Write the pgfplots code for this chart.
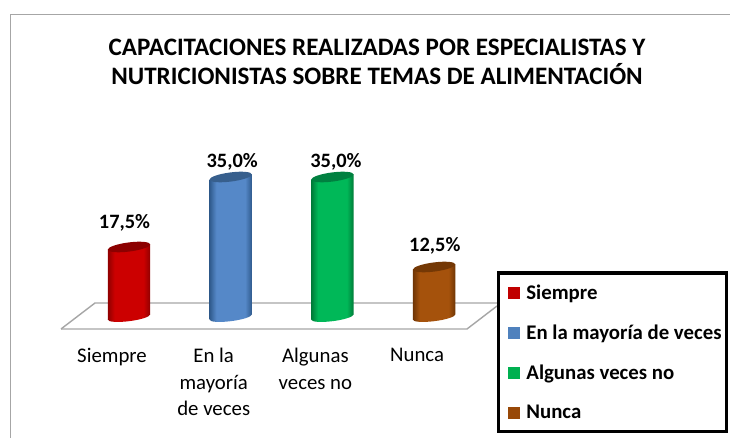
\documentclass[border=0pt]{standalone}
\usepackage{fontspec}
\setmainfont{Carlito}
\usepackage{pgfplots}
\pgfplotsset{compat=1.18}
\definecolor{redC}{HTML}{CC0000}\definecolor{redE}{HTML}{900000}\definecolor{redT}{HTML}{8C0000}
\definecolor{bluC}{HTML}{5588C8}\definecolor{bluE}{HTML}{2F5A8C}\definecolor{bluT}{HTML}{375F8D}
\definecolor{greC}{HTML}{00B858}\definecolor{greE}{HTML}{007A38}\definecolor{greT}{HTML}{008040}
\definecolor{broC}{HTML}{A5520C}\definecolor{broE}{HTML}{6F3505}\definecolor{broT}{HTML}{743805}
\definecolor{lgR}{HTML}{C00000}\definecolor{lgB}{HTML}{4F81BD}\definecolor{lgG}{HTML}{00B050}\definecolor{lgN}{HTML}{984807}
\definecolor{frameG}{HTML}{A6A6A6}
\newcommand\cylshade[3]{\pgfdeclarehorizontalshading{#1}{100bp}{color(0bp)=(#2);color(25bp)=(#2);color(33bp)=(#3);color(67bp)=(#3);color(75bp)=(#2);color(100bp)=(#2)}}
\cylshade{cylR}{redE}{redC}
\cylshade{cylB}{bluE}{bluC}
\cylshade{cylG}{greE}{greC}
\cylshade{cylN}{broE}{broC}
\newcommand\capmark[2]{\pgfdeclareplotmark{#1}{\pgfpathellipse{\pgfpointorigin}{\pgfpoint{21.2pt}{2.6pt}}{\pgfpoint{0pt}{4.6pt}}\pgfsetfillcolor{#2}\pgfusepath{fill}}}
\newcommand\basemark[2]{\pgfdeclareplotmark{#1}{\pgfpathellipse{\pgfpointorigin}{\pgfpoint{21.2pt}{2.6pt}}{\pgfpoint{0pt}{4.2pt}}\pgfshadepath{#2}{0}\pgfusepath{discard}}}
\capmark{capR}{redT}\capmark{capB}{bluT}\capmark{capG}{greT}\capmark{capN}{broT}
\basemark{baseR}{cylR}\basemark{baseB}{cylB}\basemark{baseG}{cylG}\basemark{baseN}{cylN}
\pgfplotsset{
  cyl/.style n args={2}{ybar, forget plot, bar width=42.4pt, bar shift=0pt, draw=none, shading=#1, shading angle=0,
    nodes near coords={\pgfmathprintnumber[fixed,fixed zerofill,precision=1,use comma,assume math mode=true]{\pgfplotspointmeta}\%},
    every node near coord/.append style={font=\fontsize{20.4}{22}\selectfont\bfseries, text=black, anchor=center, #2}},
  swatch/.style={legend image code/.code={\fill[draw=none,fill=#1] (0pt,-6pt) rectangle (12pt,6pt);\path[draw=none] (-7pt,0pt) -- (16pt,0pt);}},
}
\begin{document}
\begin{tikzpicture}
\path[use as bounding box, fill=white] (0pt,0pt) rectangle (730pt,438pt);
\draw[frameG, line width=1.6pt] (10.5pt,0pt) -- (10.5pt,423.5pt) -- (730pt,423.5pt);
\draw[frameG, line width=1.4pt] (61pt,109pt) -- (95pt,135pt) -- (497pt,135pt);
\draw[frameG, line width=1.4pt] (61pt,109pt) -- (467pt,109pt) -- (497pt,132pt);
\node[align=center, font=\fontsize{25.1}{29}\selectfont\bfseries] at (377pt,376.5pt)
  {CAPACITACIONES REALIZADAS POR ESPECIALISTAS Y\\NUTRICIONISTAS SOBRE TEMAS DE ALIMENTACIÓN};
\begin{axis}[
  at={(78.15pt,121pt)}, anchor=south west, scale only axis,
  width=406.8pt, height=140pt,
  xmin=-0.5, xmax=3.5, ymin=0, ymax=35,
  clip=false,
  axis x line*=bottom, axis y line=none,
  axis line style={draw=none},
  tick style={draw=none}, major tick length=0pt,
  ytick=\empty,
  xtick={0,1,2,3},
  xticklabels={Siempre,En la\\mayoría\\de veces,Algunas\\veces no,Nunca},
  xticklabel style={align=center, anchor=north, xshift=-17pt, yshift=-28pt,
    font=\fontsize{20.8}{26.4}\selectfont},
  legend cell align=left,
  legend style={at={(418.5pt,45.5pt)}, anchor=north west,
    draw=black, line width=3.5pt, fill=white,
    font=\fontsize{20.8}{22}\selectfont\bfseries,
    inner xsep=3pt, inner ysep=9.5pt, row sep=20pt},
]
\addplot[only marks, forget plot, mark=baseR] coordinates {(0,0)};
\addplot[only marks, forget plot, mark=baseB] coordinates {(1,0)};
\addplot[only marks, forget plot, mark=baseG] coordinates {(2,0)};
\addplot[only marks, forget plot, mark=baseN] coordinates {(3,0)};
\addplot[yslant=0.1226, yshift=-6.23pt, cyl={cylR}{xshift=-4.5pt,yshift=24pt}] coordinates {(0,17.5)};
\addplot[yslant=0.1226, yshift=-18.7pt, cyl={cylB}{xshift=1.5pt,yshift=15.5pt}] coordinates {(1,35)};
\addplot[yslant=0.1226, yshift=-31.2pt, cyl={cylG}{xshift=3.5pt,yshift=15.5pt}] coordinates {(2,35)};
\addplot[yslant=0.1226, yshift=-43.6pt, cyl={cylN}{xshift=0.7pt,yshift=21.5pt}] coordinates {(3,12.5)};
\addplot[only marks, forget plot, mark=capR] coordinates {(0,17.5)};
\addplot[only marks, forget plot, mark=capB] coordinates {(1,35)};
\addplot[only marks, forget plot, mark=capG] coordinates {(2,35)};
\addplot[only marks, forget plot, mark=capN] coordinates {(3,12.5)};
\addlegendimage{swatch=lgR}\addlegendentry{Siempre}
\addlegendimage{swatch=lgB}\addlegendentry{En la mayoría de veces}
\addlegendimage{swatch=lgG}\addlegendentry{Algunas veces no}
\addlegendimage{swatch=lgN}\addlegendentry{Nunca}
\end{axis}
\end{tikzpicture}
\end{document}
